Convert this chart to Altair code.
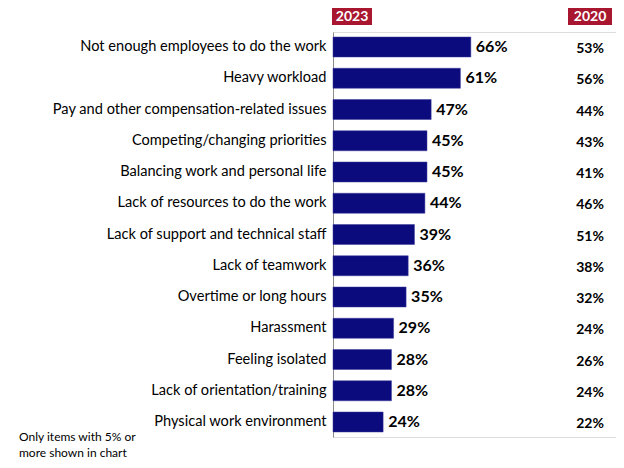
import altair as alt
import pandas as pd

categories = [
    "Not enough employees to do the work",
    "Heavy workload",
    "Pay and other compensation-related issues",
    "Competing/changing priorities",
    "Balancing work and personal life",
    "Lack of resources to do the work",
    "Lack of support and technical staff",
    "Lack of teamwork",
    "Overtime or long hours",
    "Harassment",
    "Feeling isolated",
    "Lack of orientation/training",
    "Physical work environment",
]
values_2023 = [66, 61, 47, 45, 45, 44, 39, 36, 35, 29, 28, 28, 24]
values_2020 = [53, 56, 44, 43, 41, 46, 51, 38, 32, 24, 26, 24, 22]
headers = ["2023", "2020"]
footnote = "Only items with 5% or\nmore shown in chart"

df = pd.DataFrame({
    "item": categories,
    "v2023": values_2023,
    "v2020": values_2020,
})
df["l2023"] = df["v2023"].astype(str) + "%"
df["l2020"] = df["v2020"].astype(str) + "%"

FONT = "Lato"
NAVY = "#0B0B7E"
RED = "#A8172F"

y_enc = alt.Y(
    "item:N",
    sort=categories,
    scale=alt.Scale(paddingInner=0.36, paddingOuter=0.16),
    axis=alt.Axis(
        title=None,
        ticks=False,
        labelFont=FONT,
        labelFontSize=14.6,
        labelColor="#000000",
        labelPadding=7,
        labelLimit=320,
        domainColor="#8c8c8c",
        domainWidth=1,
        grid=False,
    ),
)
x_scale = alt.Scale(domain=[0, 135.5], nice=False)

base = alt.Chart(df)

bars = base.mark_bar(color=NAVY, stroke="#3a3a9a", strokeWidth=0.5).encode(
    x=alt.X("v2023:Q", scale=x_scale, axis=None),
    y=y_enc,
)

lab23 = base.mark_text(
    align="left", baseline="middle", dx=5, font=FONT, fontSize=16,
    fontWeight="bold", color="#000000",
).encode(
    x=alt.X("v2023:Q", scale=x_scale, axis=None),
    y=alt.Y("item:N", sort=categories),
    text="l2023:N",
)

lab20 = base.mark_text(
    align="center", baseline="middle", dy=2, font=FONT, fontSize=14,
    fontWeight="bold", color="#000000",
).encode(
    x=alt.value(257),
    y=alt.Y("item:N", sort=categories),
    text="l2020:N",
)

hdr_df = pd.DataFrame({"label": headers, "x0": [-1, 235], "x1": [39, 279], "xc": [19, 257]})
hdr_rect = alt.Chart(hdr_df).mark_rect(color=RED).encode(
    x=alt.X("x0:Q", scale=None),
    x2="x1:Q",
    y=alt.value(-24),
    y2=alt.value(-7),
)
hdr_text = alt.Chart(hdr_df).mark_text(
    align="center", baseline="middle", font=FONT, fontSize=14,
    fontWeight="bold", color="white",
).encode(
    x=alt.X("xc:Q", scale=None),
    y=alt.value(-15),
    text="label:N",
)

note = alt.Chart(pd.DataFrame({"t": [footnote]})).mark_text(
    align="left", baseline="top", font=FONT, fontSize=12, color="#000000",
    lineBreak="\n", lineHeight=16,
).encode(
    x=alt.value(-314),
    y=alt.value(400),
    text="t:N",
)

chart = alt.layer(bars, lab23, lab20, hdr_rect, hdr_text, note).resolve_scale(
    x="independent"
).properties(
    width=283,
    height=405,
    autosize=alt.AutoSizeParams(type="none"),
    padding={"left": 325, "top": 24, "right": 0, "bottom": 30},
).configure_view(stroke=None).configure(background="white")

chart.save("out.html", embed_options={"renderer": "svg", "actions": False})
